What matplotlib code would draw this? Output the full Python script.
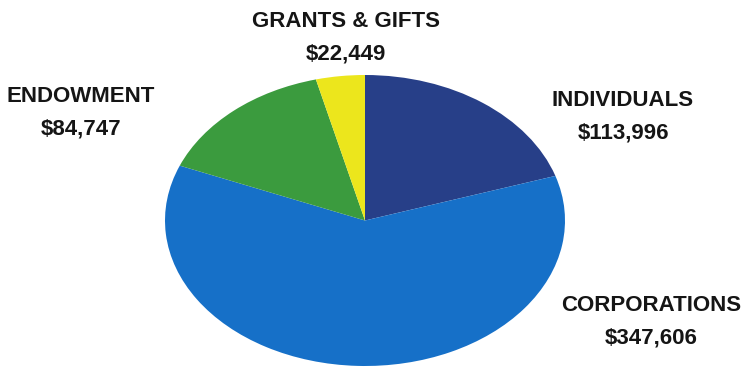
import matplotlib.pyplot as plt

categories = ["INDIVIDUALS", "CORPORATIONS", "ENDOWMENT", "GRANTS & GIFTS"]
amounts = [113996, 347606, 84747, 22449]
colors = ["#273f88", "#1670c8", "#3b9b3e", "#ece61c"]

# label centres in figure pixels (x, y from top)
label_pos = [(623, 117), (651, 322), (81, 113), (346, 38)]

W, H = 743, 377
fig = plt.figure(figsize=(W / 100, H / 100), dpi=100)

# squashed pie: axes box sets the ellipse
left, right, top, bottom = 165, 565, 75, 366
ax = fig.add_axes([left / W, (H - bottom) / H, (right - left) / W, (bottom - top) / H])
ax.pie(amounts, colors=colors, startangle=90, counterclock=False,
       wedgeprops=dict(linewidth=0))
ax.set_aspect("auto")
ax.set_xlim(-1, 1)
ax.set_ylim(-1, 1)
ax.axis("off")

for name, val, (x, y) in zip(categories, amounts, label_pos):
    fig.text(x / W, 1 - y / H, f"{name}\n${val:,}", ha="center", va="center",
             fontsize=16, fontweight="bold", family="Liberation Sans",
             linespacing=1.7, color="#151515")

fig.savefig("out.png", dpi=100, facecolor="white")
